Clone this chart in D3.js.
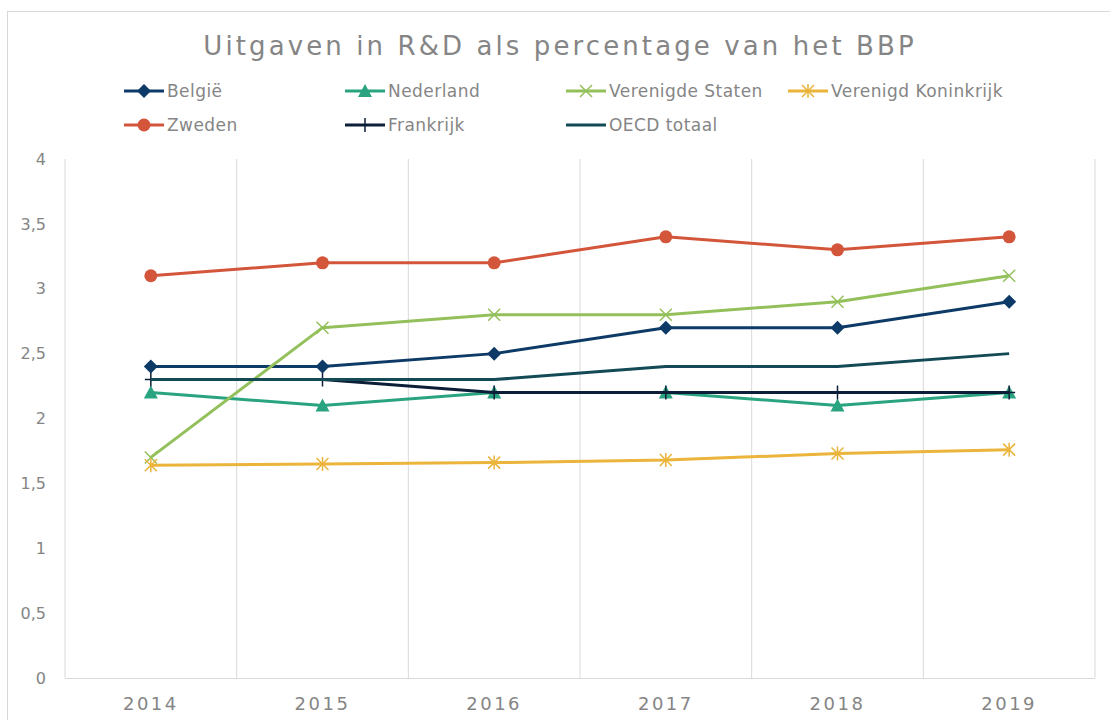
<!DOCTYPE html>
<html><head><meta charset="utf-8">
<script src="https://cdn.jsdelivr.net/npm/d3@7"></script>
<style>
html,body{margin:0;padding:0;background:#fff;}
svg text{font-family:"DejaVu Sans",Verdana,sans-serif;}
</style></head>
<body>
<svg id="chart" width="1110" height="720"></svg>
<script>
const years = ["2014","2015","2016","2017","2018","2019"];
const belgie = [2.4, 2.4, 2.5, 2.7, 2.7, 2.9];
const nederland = [2.2, 2.1, 2.2, 2.2, 2.1, 2.2];
const verenigdeStaten = [1.7, 2.7, 2.8, 2.8, 2.9, 3.1];
const verenigdKoninkrijk = [1.64, 1.65, 1.66, 1.68, 1.73, 1.76];
const zweden = [3.1, 3.2, 3.2, 3.4, 3.3, 3.4];
const frankrijk = [2.3, 2.3, 2.2, 2.2, 2.2, 2.2];
const oecd = [2.3, 2.3, 2.3, 2.4, 2.4, 2.5];
const yTicks = [0, 0.5, 1, 1.5, 2, 2.5, 3, 3.5, 4];
const title = "Uitgaven in R&D als percentage van het BBP";

const series = [
  {name:"België", values:belgie, color:"#0d3a66", marker:"diamond"},
  {name:"Nederland", values:nederland, color:"#2aa480", marker:"triangle"},
  {name:"Verenigde Staten", values:verenigdeStaten, color:"#93c05b", marker:"x"},
  {name:"Verenigd Koninkrijk", values:verenigdKoninkrijk, color:"#ebb43a", marker:"asterisk"},
  {name:"Zweden", values:zweden, color:"#d3553a", marker:"circle"},
  {name:"Frankrijk", values:frankrijk, color:"#0c1e38", marker:"plus"},
  {name:"OECD totaal", values:oecd, color:"#134a55", marker:"none"}
];

const svg = d3.select("#chart");
// outer frame
svg.append("rect").attr("x",7.5).attr("y",11.5).attr("width",1110).attr("height",720)
  .attr("fill","none").attr("stroke","#d9d9d9").attr("stroke-width",1);

const L = 65, R = 1095, T = 159, B = 678;
const x = d3.scaleBand().domain(years).range([L,R]).paddingInner(0).paddingOuter(0);
const y = d3.scaleLinear().domain([0,4]).range([B,T]);

// title
svg.append("text").attr("x",560).attr("y",55).attr("text-anchor","middle")
  .attr("font-size",26).attr("letter-spacing","3.1px").attr("fill","#858585").text(title);

// vertical gridlines at band boundaries
const bounds = years.map(d=>x(d)).concat([x(years[years.length-1])+x.bandwidth()]);
svg.append("g").selectAll("line").data(bounds).join("line")
  .attr("x1",d=>d).attr("x2",d=>d).attr("y1",T).attr("y2",B)
  .attr("stroke","#d9d9d9").attr("stroke-width",1);
// baseline
svg.append("line").attr("x1",L).attr("x2",R).attr("y1",B+0.5).attr("y2",B+0.5)
  .attr("stroke","#d9d9d9").attr("stroke-width",1);

// y axis labels
const fmt = d => d3.format("")(d).replace(".",",");
const yAxis = d3.axisLeft(y).tickValues(yTicks).tickSize(0).tickPadding(19).tickFormat(fmt);
const gy = svg.append("g").attr("transform",`translate(${L},0)`).call(yAxis);
gy.select(".domain").remove();
gy.selectAll("text").attr("font-size",16).attr("fill","#858585").attr("font-family","DejaVu Sans, Verdana, sans-serif");

// x axis labels
const xAxis = d3.axisBottom(x).tickSize(0).tickPadding(19);
const gx = svg.append("g").attr("transform",`translate(0,${B})`).call(xAxis);
gx.select(".domain").remove();
gx.selectAll("text").attr("font-size",18).attr("letter-spacing","2.5px").attr("fill","#858585")
  .attr("font-family","DejaVu Sans, Verdana, sans-serif");

const cx = d => x(d) + x.bandwidth()/2;

function drawMarker(g, type, color, px, py){
  if(type==="diamond"){
    g.append("path").attr("d",`M${px},${py-7}L${px+7},${py}L${px},${py+7}L${px-7},${py}Z`).attr("fill",color);
  } else if(type==="triangle"){
    g.append("path").attr("d",`M${px},${py-7}L${px+7},${py+6}L${px-7},${py+6}Z`).attr("fill",color);
  } else if(type==="circle"){
    g.append("circle").attr("cx",px).attr("cy",py).attr("r",6.5).attr("fill",color);
  } else if(type==="x"){
    g.append("path").attr("d",`M${px-6},${py-6}L${px+6},${py+6}M${px+6},${py-6}L${px-6},${py+6}`)
      .attr("stroke",color).attr("stroke-width",1.5).attr("fill","none");
  } else if(type==="asterisk"){
    g.append("path").attr("d",`M${px-6},${py-6}L${px+6},${py+6}M${px+6},${py-6}L${px-6},${py+6}M${px},${py-7}L${px},${py+7}`)
      .attr("stroke",color).attr("stroke-width",1.5).attr("fill","none");
  } else if(type==="plus"){
    g.append("path").attr("d",`M${px},${py-7}L${px},${py+7}M${px-6},${py}L${px+6},${py}`)
      .attr("stroke",color).attr("stroke-width",1.5).attr("fill","none");
  }
}

const line = d3.line().x((d,i)=>cx(years[i])).y(d=>y(d));
series.forEach(s=>{
  const g = svg.append("g");
  g.append("path").datum(s.values).attr("d",line).attr("fill","none")
    .attr("stroke",s.color).attr("stroke-width",3).attr("stroke-linejoin","round");
  s.values.forEach((v,i)=>drawMarker(g, s.marker, s.color, cx(years[i]), y(v)));
});

// legend
const legCols = [124, 345, 566, 788];
const legRows = [91, 125];
series.forEach((s,i)=>{
  const col = i<4 ? i : i-4;
  const row = i<4 ? 0 : 1;
  const lx = legCols[col], ly = legRows[row];
  const g = svg.append("g");
  g.append("line").attr("x1",lx).attr("x2",lx+40).attr("y1",ly).attr("y2",ly)
    .attr("stroke",s.color).attr("stroke-width",3);
  drawMarker(g, s.marker, s.color, lx+20, ly);
  g.append("text").attr("x",lx+43).attr("y",ly+6).attr("font-size",17).attr("letter-spacing","0.45px")
    .attr("fill","#858585").text(s.name);
});
</script>
</body></html>
